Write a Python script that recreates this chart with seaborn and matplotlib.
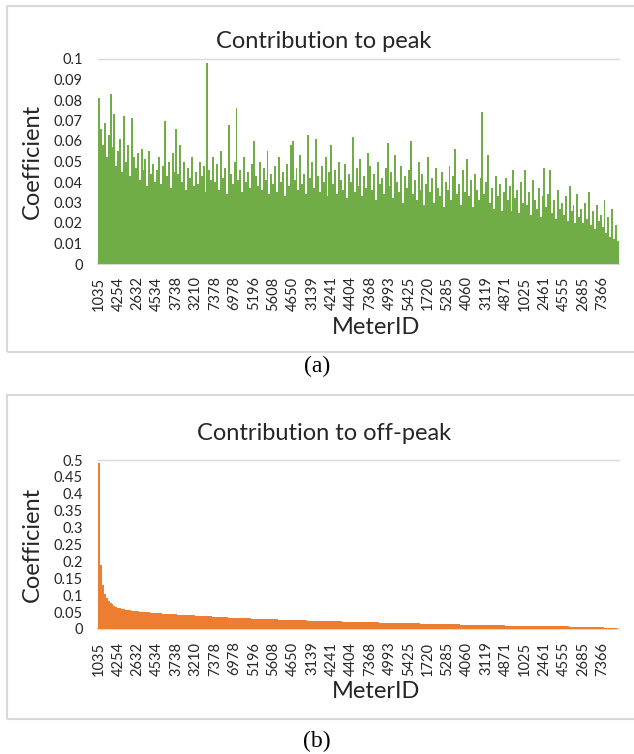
import numpy as np
import pandas as pd
import matplotlib
matplotlib.use("Agg")
import matplotlib.pyplot as plt
from matplotlib.patches import Rectangle
import seaborn as sns

# ---------------- data ----------------
tick_labels = ["1035", "4254", "2632", "4534", "3738", "3210", "7378", "6978", "5196",
               "5608", "4650", "3139", "4241", "4404", "7368", "4993", "5425", "1720",
               "5285", "4060", "3119", "4871", "1025", "2461", "4555", "2685", "7366"]

peak_values = [
    0.081, 0.066, 0.058, 0.069, 0.052, 0.063, 0.083, 0.057, 0.073, 0.048,
    0.055, 0.061, 0.045, 0.072, 0.050, 0.058, 0.043, 0.071, 0.052, 0.047,
    0.054, 0.041, 0.056, 0.046, 0.051, 0.038, 0.055, 0.044, 0.049, 0.040,
    0.046, 0.052, 0.039, 0.048, 0.070, 0.043, 0.050, 0.037, 0.054, 0.045,
    0.066, 0.044, 0.058, 0.040, 0.050, 0.036, 0.047, 0.042, 0.052, 0.038,
    0.045, 0.039, 0.050, 0.043, 0.048, 0.035, 0.098, 0.046, 0.041, 0.052,
    0.040, 0.049, 0.036, 0.055, 0.042, 0.047, 0.034, 0.068, 0.044, 0.039,
    0.050, 0.076, 0.041, 0.046, 0.035, 0.052, 0.040, 0.045, 0.037, 0.049,
    0.060, 0.043, 0.038, 0.050, 0.036, 0.047, 0.041, 0.055, 0.034, 0.044,
    0.039, 0.048, 0.035, 0.052, 0.040, 0.045, 0.033, 0.049, 0.038, 0.058,
    0.060, 0.041, 0.047, 0.036, 0.053, 0.039, 0.044, 0.034, 0.063, 0.042,
    0.050, 0.037, 0.061, 0.043, 0.035, 0.048, 0.040, 0.052, 0.033, 0.045,
    0.058, 0.039, 0.046, 0.034, 0.050, 0.041, 0.036, 0.049, 0.032, 0.044,
    0.040, 0.062, 0.035, 0.047, 0.038, 0.051, 0.033, 0.043, 0.037, 0.054,
    0.048, 0.036, 0.044, 0.031, 0.050, 0.039, 0.042, 0.034, 0.047, 0.059,
    0.038, 0.045, 0.032, 0.053, 0.040, 0.035, 0.048, 0.030, 0.043, 0.037,
    0.046, 0.060, 0.034, 0.041, 0.031, 0.050, 0.036, 0.044, 0.029, 0.039,
    0.052, 0.035, 0.042, 0.030, 0.047, 0.037, 0.033, 0.045, 0.028, 0.040,
    0.036, 0.048, 0.031, 0.043, 0.056, 0.034, 0.039, 0.029, 0.046, 0.035,
    0.051, 0.033, 0.041, 0.028, 0.044, 0.036, 0.031, 0.042, 0.074, 0.034,
    0.040, 0.053, 0.030, 0.037, 0.027, 0.043, 0.033, 0.039, 0.026, 0.035,
    0.042, 0.031, 0.038, 0.026, 0.046, 0.032, 0.036, 0.025, 0.040, 0.030,
    0.046, 0.029, 0.035, 0.024, 0.041, 0.031, 0.027, 0.037, 0.023, 0.033,
    0.047, 0.028, 0.034, 0.046, 0.025, 0.031, 0.022, 0.036, 0.027, 0.030,
    0.024, 0.033, 0.021, 0.038, 0.026, 0.029, 0.020, 0.034, 0.023, 0.027,
    0.020, 0.030, 0.022, 0.035, 0.019, 0.026, 0.017, 0.029, 0.021, 0.024,
    0.018, 0.031, 0.015, 0.023, 0.013, 0.027, 0.012, 0.019, 0.011,
]

offpeak_values = [
    0.49, 0.19, 0.13, 0.105, 0.092, 0.084, 0.078, 0.073, 0.069, 0.066,
    0.063, 0.061, 0.059, 0.058, 0.057, 0.056, 0.055, 0.054, 0.053, 0.052,
    0.052, 0.051, 0.051, 0.050, 0.050, 0.049, 0.049, 0.048, 0.048, 0.047,
    0.047, 0.046, 0.046, 0.045, 0.045, 0.045, 0.044, 0.044, 0.043, 0.043,
    0.043, 0.042, 0.042, 0.042, 0.041, 0.041, 0.041, 0.040, 0.040, 0.040,
    0.039, 0.039, 0.039, 0.038, 0.038, 0.038, 0.037, 0.037, 0.037, 0.036,
    0.036, 0.036, 0.036, 0.035, 0.035, 0.035, 0.035, 0.034, 0.034, 0.034,
    0.034, 0.033, 0.033, 0.033, 0.033, 0.032, 0.032, 0.032, 0.032, 0.031,
    0.031, 0.031, 0.031, 0.030, 0.030, 0.030, 0.030, 0.030, 0.029, 0.029,
    0.029, 0.029, 0.029, 0.028, 0.028, 0.028, 0.028, 0.028, 0.027, 0.027,
    0.027, 0.027, 0.027, 0.026, 0.026, 0.026, 0.026, 0.026, 0.025, 0.025,
    0.025, 0.025, 0.025, 0.025, 0.024, 0.024, 0.024, 0.024, 0.024, 0.024,
    0.023, 0.023, 0.023, 0.023, 0.023, 0.023, 0.022, 0.022, 0.022, 0.022,
    0.022, 0.022, 0.021, 0.021, 0.021, 0.021, 0.021, 0.021, 0.020, 0.020,
    0.020, 0.020, 0.020, 0.020, 0.020, 0.019, 0.019, 0.019, 0.019, 0.019,
    0.019, 0.019, 0.018, 0.018, 0.018, 0.018, 0.018, 0.018, 0.018, 0.017,
    0.017, 0.017, 0.017, 0.017, 0.017, 0.017, 0.016, 0.016, 0.016, 0.016,
    0.016, 0.016, 0.016, 0.015, 0.015, 0.015, 0.015, 0.015, 0.015, 0.015,
    0.014, 0.014, 0.014, 0.014, 0.014, 0.014, 0.014, 0.013, 0.013, 0.013,
    0.013, 0.013, 0.013, 0.013, 0.012, 0.012, 0.012, 0.012, 0.012, 0.012,
    0.012, 0.012, 0.011, 0.011, 0.011, 0.011, 0.011, 0.011, 0.011, 0.011,
    0.010, 0.010, 0.010, 0.010, 0.010, 0.010, 0.010, 0.010, 0.0098, 0.0098,
    0.0096, 0.0096, 0.0094, 0.0094, 0.0092, 0.0092, 0.0090, 0.0090, 0.0088, 0.0088,
    0.0086, 0.0086, 0.0084, 0.0084, 0.0082, 0.0082, 0.0080, 0.0080, 0.0078, 0.0078,
    0.0076, 0.0075, 0.0074, 0.0073, 0.0072, 0.0071, 0.0070, 0.0069, 0.0068, 0.0067,
    0.0066, 0.0064, 0.0062, 0.0060, 0.0058, 0.0056, 0.0054, 0.0052, 0.0050, 0.0048,
    0.0045, 0.0042, 0.0039, 0.0036, 0.0032, 0.0028, 0.0023, 0.0017, 0.0010,
]

label_step = 10
peak_yticks = [0, 0.01, 0.02, 0.03, 0.04, 0.05, 0.06, 0.07, 0.08, 0.09, 0.1]
offpeak_yticks = [0, 0.05, 0.1, 0.15, 0.2, 0.25, 0.3, 0.35, 0.4, 0.45, 0.5]

GREEN = "#70AD47"
ORANGE = "#ED7D31"
GRID = "#D9D9D9"
TXT = "#262626"

sns.set_theme(style="white")
plt.rcParams["font.family"] = ["Lato", "DejaVu Sans"]

W, H = 634, 754
fig = plt.figure(figsize=(W / 100, H / 100), dpi=100)


def fx(x):
    return x / W


def fy(y):
    return 1 - y / H


def panel(ax, values, color, yticks, title, title_y, border, caption, caption_y,
          xlabel_y):
    n = len(values)
    df = pd.DataFrame({"rank": np.arange(n), "coef": values})
    sns.barplot(data=df, x="rank", y="coef", color=color, width=1.0,
                saturation=1, linewidth=0, antialiased=False, ax=ax, zorder=2)
    ax.set_xlim(-0.5, n - 0.5)
    ax.set_ylim(yticks[0], yticks[-1])
    ax.set_yticks(yticks)
    ax.set_yticklabels([f"{v:g}" for v in yticks], fontsize=10.5, color=TXT)
    pos = list(range(0, n, label_step))
    ax.set_xticks(pos)
    ax.set_xticklabels(tick_labels[:len(pos)], rotation=90, fontsize=10.5, color=TXT)
    ax.tick_params(axis="x", length=0, pad=9)
    ax.tick_params(axis="y", length=0, pad=11)
    for s in ("left", "right"):
        ax.spines[s].set_visible(False)
    ax.spines["top"].set_color(GRID)
    ax.spines["top"].set_linewidth(1.0)
    ax.spines["bottom"].set_color(GRID)
    ax.spines["bottom"].set_linewidth(1.5)
    ax.spines["bottom"].set_zorder(1)
    ax.set_ylabel("Coefficient", fontsize=17, color=TXT, labelpad=8)
    ax.set_xlabel("")
    ax.grid(False)
    # axis title for x, placed like the reference chart's axis title
    fig.text(fx(376), fy(xlabel_y), "MeterID", fontsize=17, color=TXT,
             ha="center", va="center")
    fig.text(fx(324), fy(title_y), title, fontsize=17, color=TXT,
             ha="center", va="baseline")
    x0, y0, y1 = border
    fig.patches.append(Rectangle((fx(x0), fy(y1)), 1.2, fy(y0) - fy(y1),
                                 transform=fig.transFigure, fill=False,
                                 edgecolor=GRID, linewidth=1.5))
    fig.text(fx(317), fy(caption_y), caption, fontsize=17, color="black",
             family="Liberation Serif", ha="center", va="center")


ax1 = fig.add_axes([fx(98), fy(264), fx(619) - fx(98), fy(59) - fy(264)])
panel(ax1, peak_values, GREEN, peak_yticks, "Contribution to peak", 48,
      (7, 6, 352), "(a)", 366, 328)

ax2 = fig.add_axes([fx(98), fy(629), fx(619) - fx(98), fy(460) - fy(629)])
panel(ax2, offpeak_values, ORANGE, offpeak_yticks, "Contribution to off-peak", 440,
      (7, 395, 719), "(b)", 741, 691)

fig.savefig("out.png", dpi=100)
